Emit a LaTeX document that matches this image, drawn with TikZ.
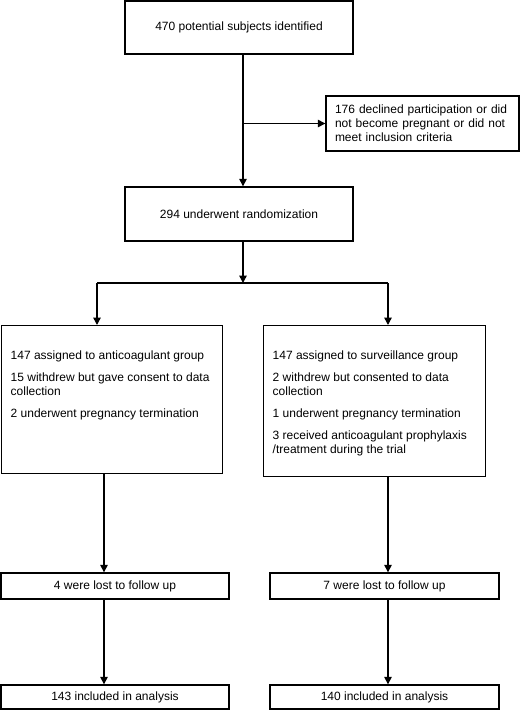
\documentclass[tikz,border=0pt]{standalone}
\usepackage{fontspec}
\setmainfont{Liberation Sans}
\usetikzlibrary{arrows.meta}
\newcommand{\grptext}[3]{\parbox[t][#1][t]{#2}{\setlength{\parindent}{0pt}\setlength{\parskip}{8pt}\raggedright\leftskip=9pt\vspace*{17pt}#3}}
\tikzset{
  box/.style={draw=black, line width=1.4pt, inner sep=0pt, font=\fontsize{12}{14}\selectfont},
  arr/.style={line width=1.4pt, -{Triangle[length=7.5pt,width=7.5pt]}},
  ln/.style={line width=1.4pt}
}
\begin{document}
\begin{tikzpicture}[x=1pt,y=-1pt]
\useasboundingbox (0,0) rectangle (520,710);
\node[box, minimum width=228pt, minimum height=53pt] (top) at (239,27.5) {470 potential subjects identified};
\node[box, minimum width=193pt, minimum height=55pt, text width=175pt, inner xsep=9pt, align=left] (side) at (422.5,123.5)
  {176 declined participation or did\\not become pregnant or did not\\meet inclusion criteria};
\node[box, minimum width=228pt, minimum height=54pt] (rand) at (239,214) {294 underwent randomization};
\node[box, anchor=north west] (lg) at (1,325) {\grptext{148pt}{221pt}{147 assigned to anticoagulant group\par
15 withdrew but gave consent to data\\collection\par
2 underwent pregnancy termination}};
\node[box, anchor=north west] (rg) at (263,325) {\grptext{151pt}{222pt}{147 assigned to surveillance group\par
2 withdrew but consented to data\\collection\par
1 underwent pregnancy termination\par
3 received anticoagulant prophylaxis\\/treatment during the trial}};
\node[box, minimum width=228pt, minimum height=26pt] (lostL) at (115,586) {4 were lost to follow up};
\node[box, minimum width=229pt, minimum height=26pt] (lostR) at (384.5,586) {7 were lost to follow up};
\node[box, minimum width=228pt, minimum height=24pt] (finL) at (115,697) {143 included in analysis};
\node[box, minimum width=229pt, minimum height=24pt] (finR) at (384.5,697) {140 included in analysis};
\coordinate (sx) at (243,0);
\coordinate (split) at (243,283);
\coordinate (bl) at (97,283);
\coordinate (br) at (388,283);
\coordinate (cl) at (104,0);
\coordinate (cr) at (388,0);
\draw[arr] (top.south -| sx) -- (rand.north -| sx);
\draw[arr] (side.west -| sx) -- (side.west);
\draw[arr] (rand.south -| sx) -- (split);
\draw[ln] (bl) -- (br);
\draw[arr] (bl) -- (bl |- lg.north);
\draw[arr] (br) -- (br |- rg.north);
\draw[arr] (lg.south -| cl) -- (lostL.north -| cl);
\draw[arr] (rg.south -| cr) -- (lostR.north -| cr);
\draw[arr] (lostL.south -| cl) -- (finL.north -| cl);
\draw[arr] (lostR.south -| cr) -- (finR.north -| cr);
\end{tikzpicture}
\end{document}
